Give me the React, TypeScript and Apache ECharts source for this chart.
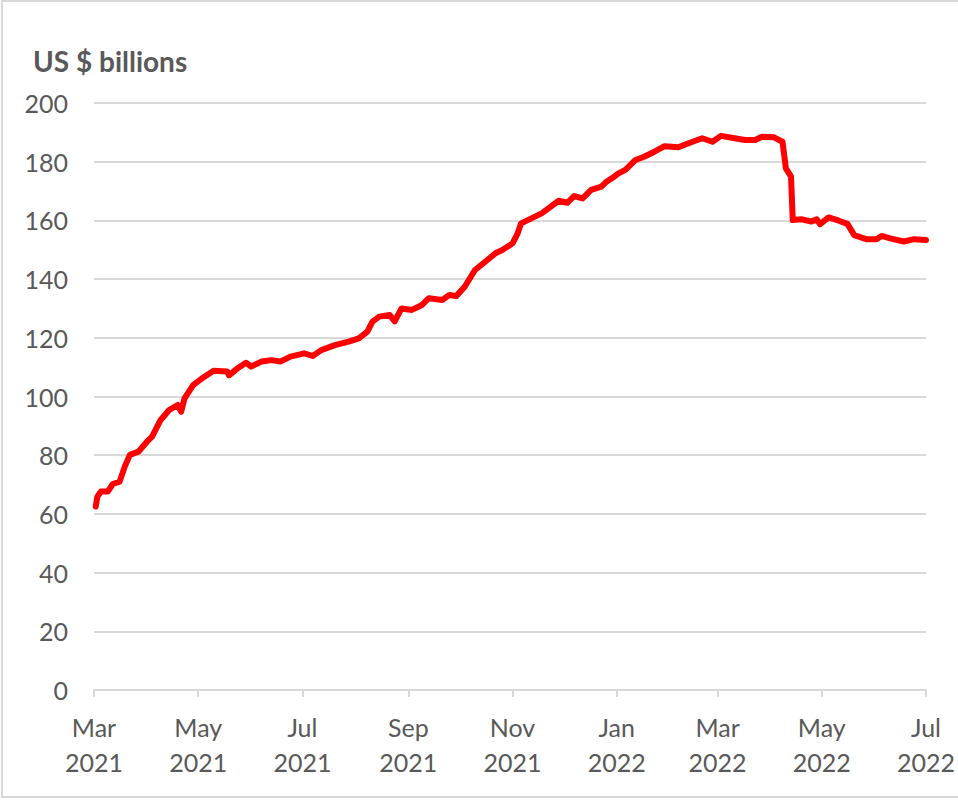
import React, { useEffect, useRef } from "react";
import * as echarts from "echarts";

const dates: string[] = [
  "2021-03-02", "2021-03-03", "2021-03-05", "2021-03-09", "2021-03-12", "2021-03-16",
  "2021-03-19", "2021-03-22", "2021-03-27", "2021-04-01", "2021-04-04", "2021-04-09",
  "2021-04-14", "2021-04-19", "2021-04-21", "2021-04-23", "2021-04-28", "2021-05-04",
  "2021-05-10", "2021-05-18", "2021-05-19", "2021-05-24", "2021-05-29", "2021-06-01",
  "2021-06-07", "2021-06-13", "2021-06-18", "2021-06-24", "2021-07-02", "2021-07-07",
  "2021-07-12", "2021-07-20", "2021-07-28", "2021-08-03", "2021-08-08", "2021-08-11",
  "2021-08-15", "2021-08-21", "2021-08-24", "2021-08-28", "2021-09-03", "2021-09-09",
  "2021-09-13", "2021-09-21", "2021-09-25", "2021-09-29", "2021-10-04", "2021-10-10",
  "2021-10-16", "2021-10-22", "2021-10-26", "2021-11-01", "2021-11-04", "2021-11-06",
  "2021-11-12", "2021-11-18", "2021-11-22", "2021-11-28", "2021-12-03", "2021-12-07",
  "2021-12-12", "2021-12-17", "2021-12-23", "2021-12-26", "2021-12-30", "2022-01-02",
  "2022-01-06", "2022-01-12", "2022-01-17", "2022-01-23", "2022-01-29", "2022-02-06",
  "2022-02-12", "2022-02-20", "2022-02-26", "2022-03-03", "2022-03-11", "2022-03-17",
  "2022-03-23", "2022-03-27", "2022-04-03", "2022-04-08", "2022-04-10", "2022-04-13",
  "2022-04-14", "2022-04-19", "2022-04-25", "2022-04-28", "2022-04-30", "2022-05-05",
  "2022-05-11", "2022-05-16", "2022-05-20", "2022-05-27", "2022-06-02", "2022-06-05",
  "2022-06-10", "2022-06-18", "2022-06-24", "2022-07-01",
];

const balances: number[] = [
  62.5, 65.9, 67.6, 67.6, 70.2, 71.0,
  76.1, 80.1, 81.2, 84.6, 86.3, 92.0,
  95.4, 97.1, 94.8, 99.4, 103.9, 106.5,
  108.8, 108.5, 107.2, 109.6, 111.5, 110.2,
  111.9, 112.4, 111.9, 113.6, 114.7, 113.8,
  115.8, 117.5, 118.7, 119.8, 122.1, 125.5,
  127.2, 127.8, 125.6, 130.0, 129.5, 131.2,
  133.5, 132.9, 134.6, 134.2, 137.4, 143.1,
  145.9, 148.8, 149.9, 152.2, 155.6, 159.0,
  160.7, 162.4, 164.1, 166.7, 166.0, 168.3,
  167.5, 170.4, 171.5, 173.2, 174.7, 176.0,
  177.2, 180.6, 181.7, 183.4, 185.3, 184.9,
  186.3, 188.0, 186.8, 188.8, 188.0, 187.4,
  187.4, 188.5, 188.3, 186.8, 177.7, 174.9,
  160.1, 160.4, 159.6, 160.4, 158.7, 161.0,
  159.9, 158.8, 155.0, 153.6, 153.6, 154.7,
  153.9, 152.8, 153.6, 153.3,
];

const tickDates: string[] = [
  "2021-03-01", "2021-05-01", "2021-07-01", "2021-09-01", "2021-11-01",
  "2022-01-01", "2022-03-01", "2022-05-01", "2022-07-01",
];
const monthNames: string[] = ["Jan", "Feb", "Mar", "Apr", "May", "Jun", "Jul", "Aug", "Sep", "Oct", "Nov", "Dec"];

const yTitle = "US $ billions";
const yMin = 0;
const yMax = 200;
const yStep = 20;

function toUTC(s: string): number {
  const [y, m, d] = s.split("-").map(Number);
  return Date.UTC(y, m - 1, d);
}

export default function App() {
  const ref = useRef<HTMLDivElement>(null);
  useEffect(() => {
    if (!ref.current) return;
    const chart = echarts.init(ref.current, undefined, { renderer: "svg" });
    const tickValues = tickDates.map(toUTC);
    const labelStyle = {
      fontFamily: "Lato, 'Open Sans', sans-serif",
      fontSize: 25,
      color: "#595959",
    };
    chart.setOption({
      animation: false,
      backgroundColor: "#ffffff",
      graphic: [
        {
          type: "rect",
          shape: { x: 2, y: 1, width: 980, height: 796 },
          style: { fill: "none", stroke: "#d9d9d9", lineWidth: 2 },
          silent: true,
        },
      ],
      title: {
        text: yTitle,
        left: 28,
        top: 42,
        textStyle: {
          fontFamily: "Lato, 'Open Sans', sans-serif",
          fontWeight: "bold",
          fontSize: 28,
          color: "#595959",
        },
      },
      grid: { left: 94, right: 32, top: 103, bottom: 110, containLabel: false },
      xAxis: {
        type: "value",
        min: tickValues[0],
        max: tickValues[tickValues.length - 1],
        axisLine: { show: true, lineStyle: { color: "#d9d9d9", width: 2 } },
        axisTick: {
          show: true,
          length: 7,
          customValues: tickValues,
          lineStyle: { color: "#d9d9d9", width: 2 },
        },
        axisLabel: {
          ...labelStyle,
          customValues: tickValues,
          margin: 19,
          lineHeight: 35,
          showMinLabel: true,
          showMaxLabel: true,
          hideOverlap: false,
          formatter: (v: number) => {
            const d = new Date(v);
            return `${monthNames[d.getUTCMonth()]}\n${d.getUTCFullYear()}`;
          },
        },
        splitLine: { show: false },
      },
      yAxis: {
        type: "value",
        min: yMin,
        max: yMax,
        interval: yStep,
        axisLine: { show: false },
        axisTick: { show: false },
        axisLabel: { ...labelStyle, margin: 26 },
        splitLine: { show: true, lineStyle: { color: "#d9d9d9", width: 2 } },
      },
      series: [
        {
          type: "line",
          data: dates.map((d, i) => [toUTC(d), balances[i]]),
          showSymbol: false,
          symbol: "none",
          lineStyle: { color: "#ff0000", width: 6, join: "round", cap: "round" },
          itemStyle: { color: "#ff0000" },
          z: 5,
        },
      ],
    });
    return () => chart.dispose();
  }, []);
  return (
    <div
      ref={ref}
      style={{ position: "fixed", left: 0, top: 0, width: 958, height: 800 }}
    />
  );
}
